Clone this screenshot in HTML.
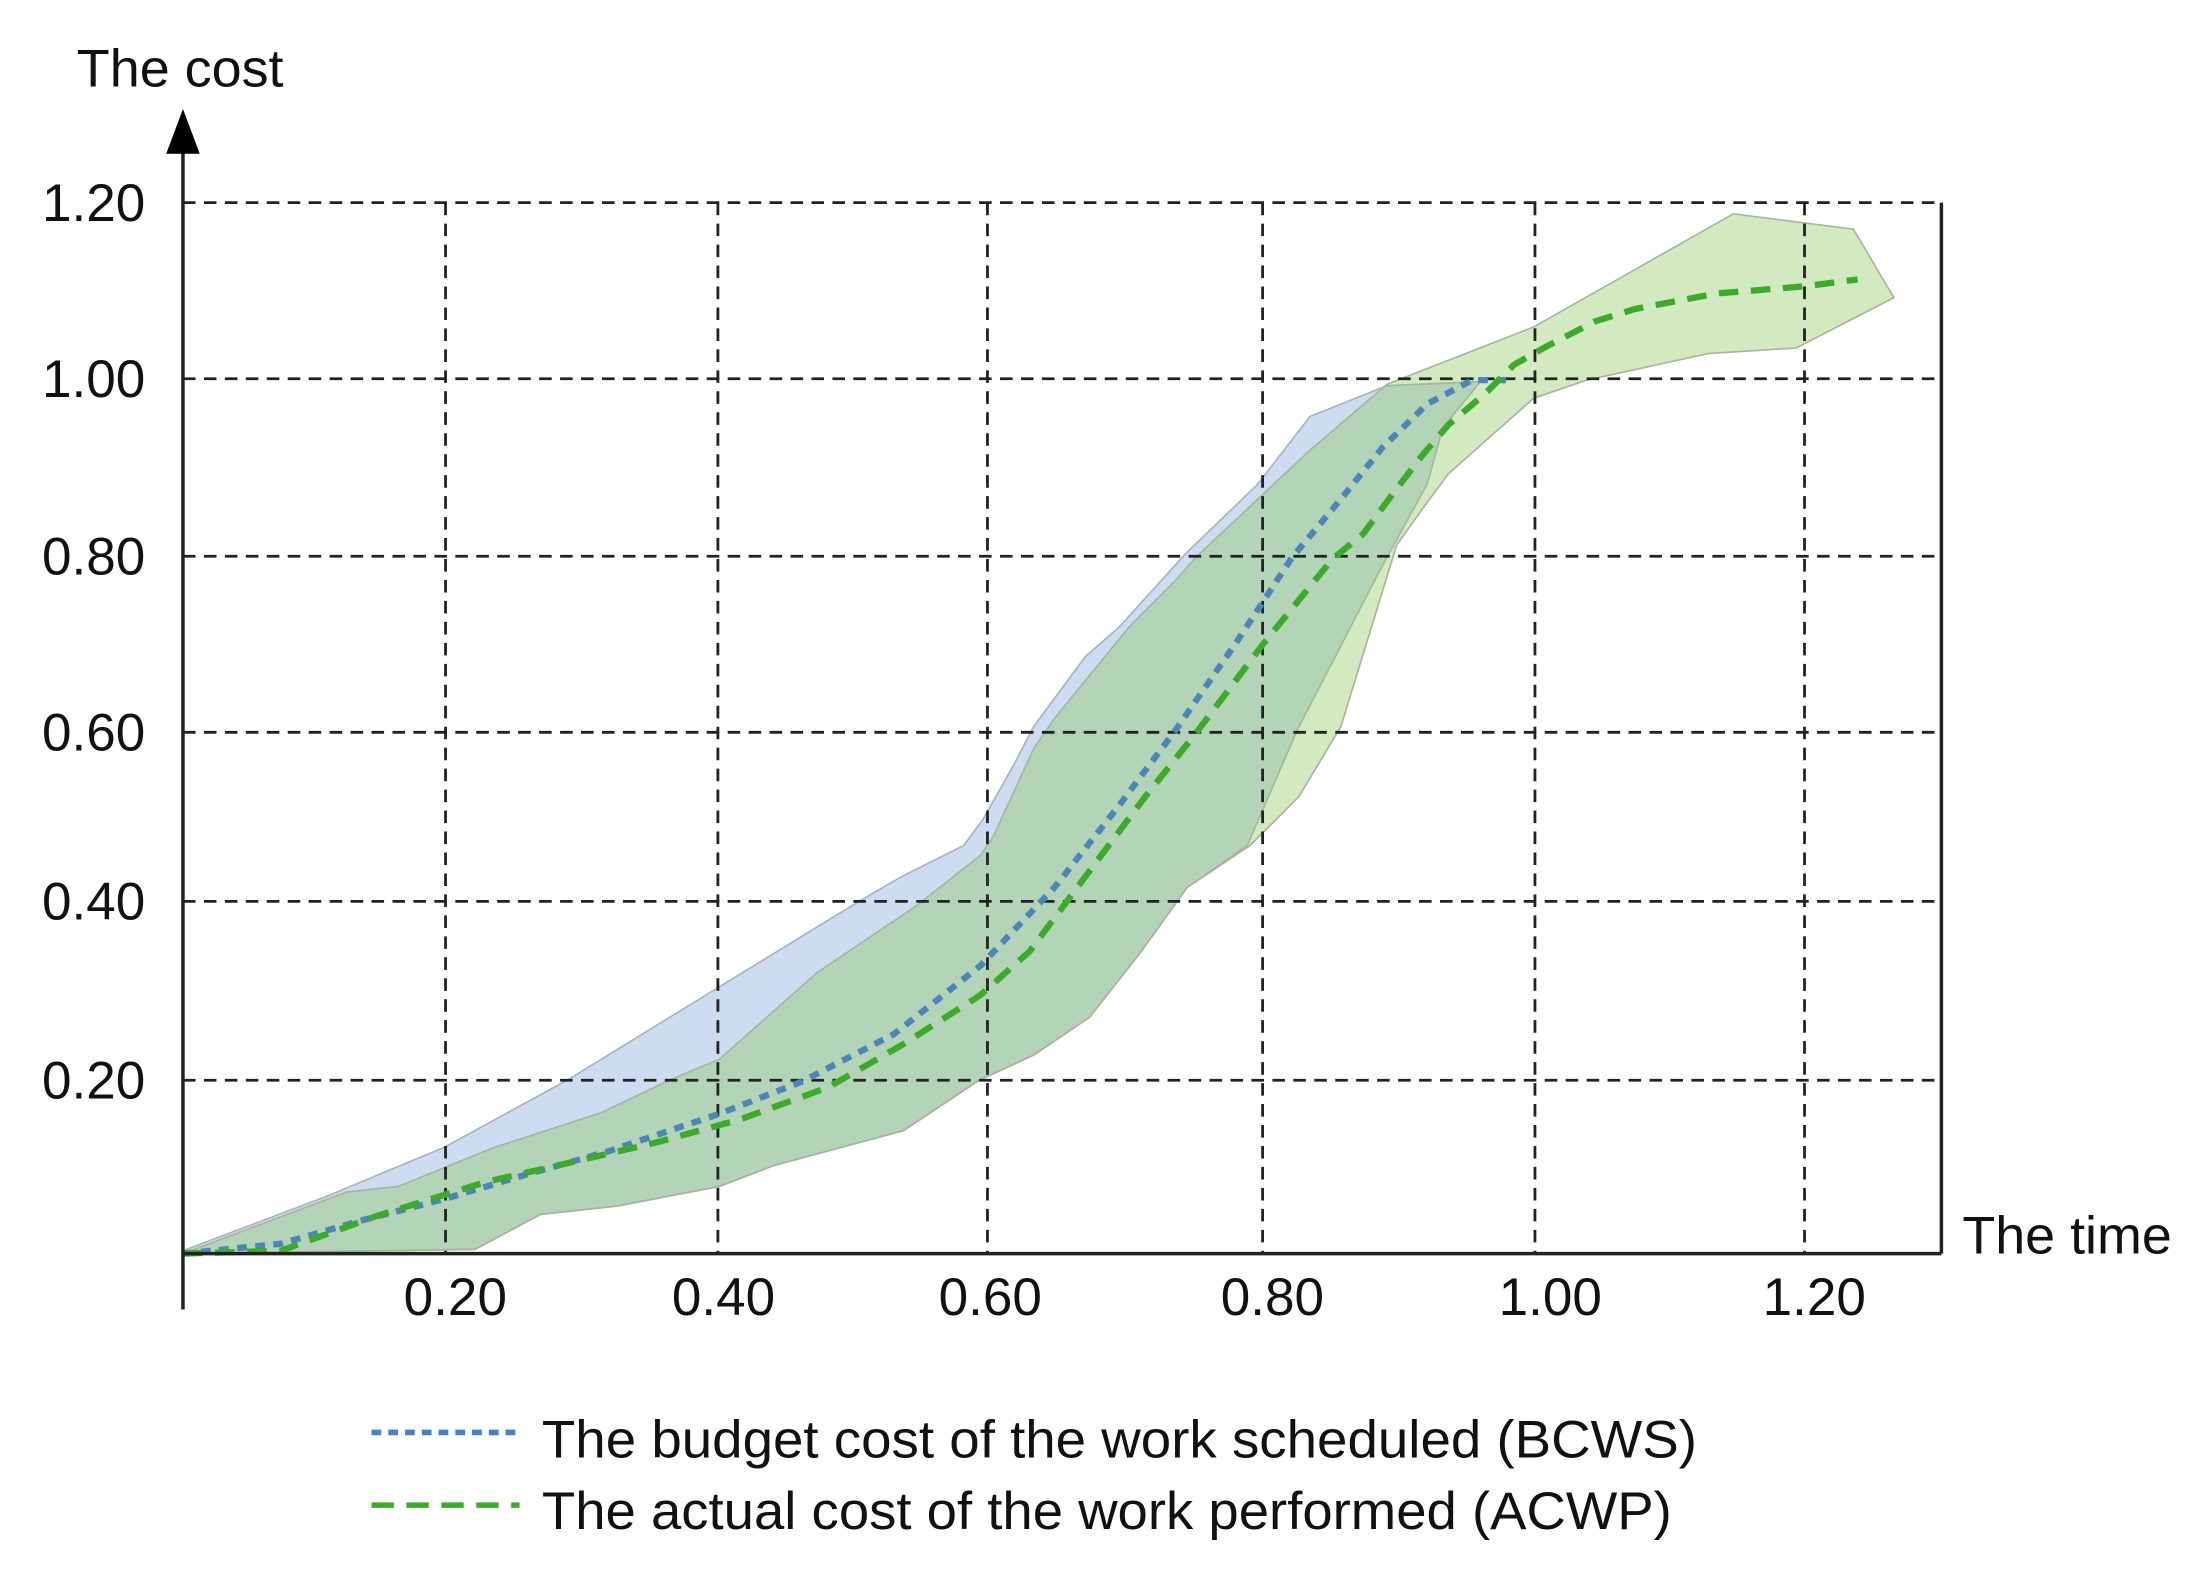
<!DOCTYPE html>
<html><head><meta charset="utf-8"><style>
html,body{margin:0;padding:0;background:#fff;}
svg{display:block;}
text{font-family:"Liberation Sans",Arial,sans-serif;fill:#111;}
</style></head><body>
<svg width="2190" height="1575" viewBox="0 0 1568 1127" preserveAspectRatio="none" xmlns="http://www.w3.org/2000/svg">
<!-- blue band -->
<polygon fill="#cddcf0" stroke="#a9b3c0" stroke-width="1.2" points="131,895 234,856 318,821 406,773 512,708 615,645 646,627 690,605 704,586 726,547 740,520 777,470 802,448 849,396 900,347 938,298 993,276 1060,273 1033,306 1022,346 987,410 929,522 893,605 850,635 817,681 780,728 740,755 701,773 647,809 554,834 515,849 442,863 387,869 340,894 131,897"/>
<!-- green band -->
<polygon fill="rgb(140,200,90)" fill-opacity="0.38" stroke="#a9b3a0" stroke-width="1.2" points="131,897 248,853 285,849 354,821 431,796 479,773 515,758 585,696 655,649 702,612 711,599 740,536 755,514 809,448 842,415 856,399 937,323 993,275 1098,234 1174,191 1241,153 1327,164 1356,213 1286,249 1223,253 1136,272 1098,285 1037,339 1020,362 1000,390 960,520 930,570 895,605 850,635 817,681 780,728 740,755 701,773 647,809 554,834 515,849 442,863 387,869 340,894"/>
<!-- grid -->
<g stroke="#222" stroke-width="2" stroke-dasharray="9,6" fill="none">
<line x1="131" y1="145" x2="1390" y2="145"/>
<line x1="131" y1="271" x2="1390" y2="271"/>
<line x1="131" y1="398" x2="1390" y2="398"/>
<line x1="131" y1="524" x2="1390" y2="524"/>
<line x1="131" y1="645" x2="1390" y2="645"/>
<line x1="131" y1="773" x2="1390" y2="773"/>
<line x1="319" y1="145" x2="319" y2="897"/>
<line x1="514" y1="145" x2="514" y2="897"/>
<line x1="707" y1="145" x2="707" y2="897"/>
<line x1="904" y1="145" x2="904" y2="897"/>
<line x1="1099" y1="145" x2="1099" y2="897"/>
<line x1="1292" y1="145" x2="1292" y2="897"/>
</g>
<!-- series -->
<polyline fill="none" stroke="#4a86b8" stroke-width="4.5" stroke-dasharray="7,6" stroke-linejoin="round" points="131,897 201,890 260,873 318,858 375,841 435,824 515,797 574,774 640,740 702,691 755,635 800,578 842,522 885,460 925,399 961,356 990,320 1022,289 1054,272 1084,272"/>
<polyline fill="none" stroke="#3caa2a" stroke-width="4.5" stroke-dasharray="14,9" stroke-linejoin="round" points="131,897 201,895 270,870 347,846 468,818 530,801 593,778 647,747 702,712 737,681 784,618 820,570 856,525 905,460 954,400 976,382 999,351 1019,325 1037,304 1063,282 1084,261 1107,248 1142,230 1171,221 1229,210 1291,205 1330,200"/>
<!-- axes -->
<g stroke="#222" stroke-width="2.5" fill="none">
<line x1="131" y1="105" x2="131" y2="937"/>
<line x1="131" y1="897" x2="1390" y2="897"/>
<line x1="1390" y1="145" x2="1390" y2="897"/>
</g>
<polygon points="131,78 119,110 143,110" fill="#000"/>
<!-- labels -->
<text x="55" y="62" font-size="38" textLength="148" lengthAdjust="spacingAndGlyphs">The cost</text>
<text x="1405" y="897" font-size="38" textLength="150" lengthAdjust="spacingAndGlyphs">The time</text>
<g font-size="38" text-anchor="end">
<text x="104" y="158">1.20</text>
<text x="104" y="284">1.00</text>
<text x="104" y="411">0.80</text>
<text x="104" y="537">0.60</text>
<text x="104" y="658">0.40</text>
<text x="104" y="786">0.20</text>
</g>
<g font-size="38" text-anchor="middle">
<text x="326" y="941">0.20</text>
<text x="518" y="941">0.40</text>
<text x="709" y="941">0.60</text>
<text x="911" y="941">0.80</text>
<text x="1110" y="941">1.00</text>
<text x="1299" y="941">1.20</text>
</g>
<!-- legend -->
<line x1="266" y1="1025" x2="372" y2="1025" stroke="#4a7fd0" stroke-width="4" stroke-dasharray="7,5"/>
<line x1="266" y1="1077" x2="372" y2="1077" stroke="#3caa2a" stroke-width="4" stroke-dasharray="16,9"/>
<text x="388" y="1043" font-size="38" textLength="827" lengthAdjust="spacingAndGlyphs">The budget cost of the work scheduled (BCWS)</text>
<text x="388" y="1094" font-size="38" textLength="809" lengthAdjust="spacingAndGlyphs">The actual cost of the work performed (ACWP)</text>
</svg>
</body></html>
